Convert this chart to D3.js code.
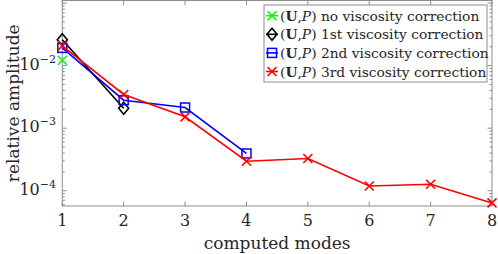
<!DOCTYPE html>
<html>
<head>
<meta charset="utf-8">
<script src="https://cdn.jsdelivr.net/npm/d3@7"></script>
<style>
  body { margin: 0; background: #fff; }
  text { font-family: "DejaVu Serif", "Liberation Serif", serif; }
</style>
</head>
<body>
<script>
// values
var modes = [1, 2, 3, 4, 5, 6, 7, 8]
var noCorr = [0.0122]
var firstCorr = [0.026, 0.00209]
var secondCorr = [0.0192, 0.0028, 0.00214, 0.000394]
var thirdCorr = [0.0207, 0.00346, 0.00152, 0.000296, 0.000327, 0.000119, 0.000127, 0.0000638]
var yTickExp = [-4, -3, -2]
var legendNames = ['no viscosity correction', '1st viscosity correction',
                   '2nd viscosity correction', '3rd viscosity correction']

var W = 498, H = 254
var pLeft = 62.3, pRight = 492, pTop = 0.5, pBottom = 206

var svg = d3.select('body').append('svg')
    .attr('width', W)
    .attr('height', H)

var x = d3.scaleLinear().domain([1, 8]).range([pLeft, pRight])
var y = d3.scaleLog().domain([5.7e-5, 0.11]).range([pBottom, pTop])

var axisCol = '#8c8c8c', textCol = '#262626'

// box
svg.append('rect')
    .attr('x', pLeft).attr('y', pTop)
    .attr('width', pRight - pLeft).attr('height', pBottom - pTop)
    .attr('fill', 'none').attr('stroke', axisCol).attr('stroke-width', 1)

// x ticks (inward, bottom and top)
modes.forEach(function (m) {
  svg.append('line').attr('x1', x(m)).attr('x2', x(m)).attr('y1', pBottom).attr('y2', pBottom - 4.5)
      .attr('stroke', axisCol)
  svg.append('line').attr('x1', x(m)).attr('x2', x(m)).attr('y1', pTop).attr('y2', pTop + 4.5)
      .attr('stroke', axisCol)
  svg.append('text').attr('x', x(m)).attr('y', 226)
      .attr('text-anchor', 'middle').attr('font-size', 16).attr('fill', textCol)
      .text(m)
})

// y ticks, major + minor, inward on both sides
var yd = y.domain()
for (var e = -5; e <= 0; e++) {
  for (var k = 1; k <= 9; k++) {
    var v = k * Math.pow(10, e)
    if (v < yd[0] || v > yd[1]) continue
    var len = k === 1 ? 4.5 : 2.5
    svg.append('line').attr('x1', pLeft).attr('x2', pLeft + len).attr('y1', y(v)).attr('y2', y(v))
        .attr('stroke', axisCol)
    svg.append('line').attr('x1', pRight).attr('x2', pRight - len).attr('y1', y(v)).attr('y2', y(v))
        .attr('stroke', axisCol)
  }
}

yTickExp.forEach(function (e) {
  var t = svg.append('text').attr('x', 56).attr('y', y(Math.pow(10, e)) + 4)
      .attr('text-anchor', 'end').attr('font-size', 16).attr('fill', textCol)
  t.append('tspan').text('10')
  t.append('tspan').attr('dy', -7).attr('font-size', 11).text('\u2212' + (-e))
})

// axis labels
svg.append('text').attr('x', (pLeft + pRight) / 2).attr('y', 249)
    .attr('text-anchor', 'middle').attr('font-size', 17).attr('fill', textCol)
    .text('computed modes')
svg.append('text')
    .attr('transform', 'translate(19,' + ((pTop + pBottom) / 2) + ') rotate(-90)')
    .attr('text-anchor', 'middle').attr('font-size', 17).attr('fill', textCol)
    .text('relative amplitude')

var series = [
  { vals: noCorr, color: '#00ff00', marker: 'x' },
  { vals: firstCorr, color: '#000000', marker: 'diamond' },
  { vals: secondCorr, color: '#0000ff', marker: 'square' },
  { vals: thirdCorr, color: '#ff0000', marker: 'x' }
]

var line = d3.line()
    .x(function (d, i) { return x(modes[i]) })
    .y(function (d) { return y(d) })

function drawMarker(g, cx, cy, type, color) {
  if (type === 'x') {
    var s = 4.5
    g.append('path')
        .attr('d', 'M' + (cx - s) + ',' + (cy - s) + 'L' + (cx + s) + ',' + (cy + s) +
                   'M' + (cx - s) + ',' + (cy + s) + 'L' + (cx + s) + ',' + (cy - s))
        .attr('stroke', color).attr('stroke-width', 1.6).attr('fill', 'none')
  } else if (type === 'square') {
    var q = 4.5
    g.append('rect').attr('x', cx - q).attr('y', cy - q).attr('width', 2 * q).attr('height', 2 * q)
        .attr('stroke', color).attr('stroke-width', 1.5).attr('fill', 'none')
  } else {
    g.append('path')
        .attr('d', 'M' + cx + ',' + (cy - 6) + 'L' + (cx + 5) + ',' + cy + 'L' + cx + ',' + (cy + 6) +
                   'L' + (cx - 5) + ',' + cy + 'Z')
        .attr('stroke', color).attr('stroke-width', 1.6).attr('fill', 'none')
  }
}

series.forEach(function (s) {
  var g = svg.append('g')
  g.append('path').datum(s.vals)
      .attr('d', line)
      .attr('fill', 'none').attr('stroke', s.color).attr('stroke-width', 1.6)
  s.vals.forEach(function (v, i) {
    drawMarker(g, x(modes[i]), y(v), s.marker, s.color)
  })
})

// legend
var lg = svg.append('g')
lg.append('rect').attr('x', 264).attr('y', 5).attr('width', 223).attr('height', 77)
    .attr('fill', '#fff').attr('stroke', '#8c8c8c')
series.forEach(function (s, i) {
  var ry = 15.7 + i * 18.6
  lg.append('line').attr('x1', 266).attr('x2', 278).attr('y1', ry).attr('y2', ry)
      .attr('stroke', s.color).attr('stroke-width', 1.6)
  drawMarker(lg, 272, ry, s.marker, s.color)
  var t = lg.append('text').attr('x', 280).attr('y', ry + 5)
      .attr('font-size', 13.8).attr('fill', textCol)
  t.append('tspan').text('(')
  t.append('tspan').attr('font-weight', 'bold').text('U')
  t.append('tspan').text(',')
  t.append('tspan').attr('font-style', 'italic').text('P')
  t.append('tspan').text(') ' + legendNames[i])
})
</script>
</body>
</html>
